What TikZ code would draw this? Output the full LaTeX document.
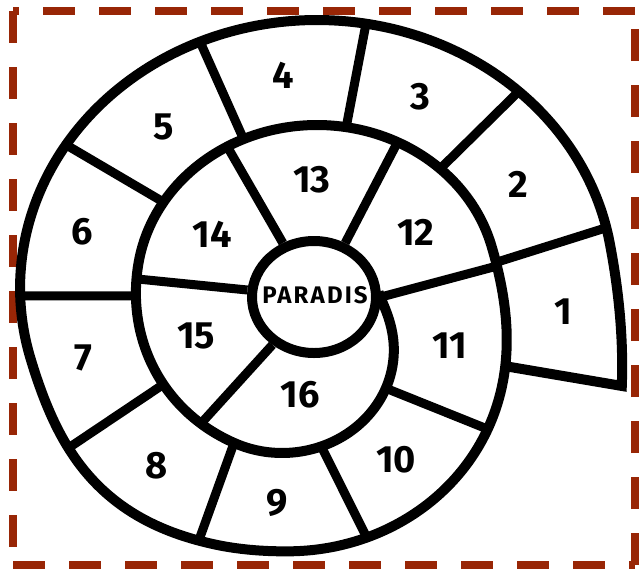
\documentclass[tikz,border=0pt]{standalone}
\usepackage{fontspec}
\setmainfont{Fira Sans}[Numbers=Proportional]
\usetikzlibrary{shapes.geometric}
\definecolor{framered}{RGB}{152,38,6}

\begin{document}
\begin{tikzpicture}[x=1pt,y=-1pt,
  declare function={
    rbase(\t)=(\t<10)?(268+0.0274*(10-\t)*(10-\t)):((\t<250)?268:((\t<375)?(163+52.5*(1+cos(1.44*(\t-250)))):((\t<530)?163:((\t<605)?(163+4.5*(1-cos(2.4*(\t-530)))):(54+59*(1+cos(1.5*(\t-605))))))));
    rbump(\t)=(abs(\t-230)<35)?(6*(1+cos(5.14*(\t-230)))):0;
    sx(\t)=317+1.108*(rbase(\t)+rbump(\t))*cos(\t);
    sy(\t)=288-(rbase(\t)+rbump(\t))*sin(\t);},
  wall/.style={line width=10pt,line join=round},
  spoke/.style={line width=9pt},
  frame/.style={draw=framered,line width=8pt,dash pattern=on 32pt off 24pt},
  num/.style={font=\fontsize{38}{38}\selectfont\bfseries,inner sep=0pt}]
\useasboundingbox (0,0) rectangle (642,568);
% dashed frame, each side starts with a dash at its corner
\draw[frame] (634.5,11) -- (13,11);
\draw[frame] (13,11) -- (13,565);
\draw[frame] (13,565) -- (634.5,565);
\draw[frame] (634.5,565) -- (634.5,11);
% points on the spiral wall (angle in degrees, second turn = +360)
\foreach \n/\a in {o12/13, o23/47.2, o34/80.5, o45/113.2, o56/147.7, o67/181.7,
    o78/215.5, o89/247.1, o910/280.2, o1011/317.5, foot/335.3,
    m12/369, m23/407, m34/440.7, m45/474, m56/508.2, m67/542.8, m78/574.8,
    m89/604.2, m910/631.4, m1011/661.8,
    i1112/367.7, i1213/423.5, i1314/479.8, i1415/536.8, i1516/592.3}
  \coordinate (\n) at ({sx(\a)},{sy(\a)});
\node[draw,ellipse,line width=10pt,minimum width=124pt,minimum height=112pt,
  inner sep=0pt] (paradis) at (314,297) {};
\node[font=\fontsize{24}{24}\selectfont\bfseries] (paradistext) at (315,295)
  {\addfontfeature{LetterSpace=9}PARADIS};
% walls between the cells
\foreach \a/\b in {m12/o12, m23/o23, m34/o34, m45/o45, m56/o56, m67/o67,
    m78/o78, m89/o89, m910/o910, m1011/o1011,
    paradis.east/i1112, paradis.60/i1213, paradis.120/i1314,
    paradis.174/i1415, paradis.229/i1516}
  \draw[spoke] (\a) -- (\b);
% spiral wall, from the foot of cell 1 inwards to paradise
\draw[wall,line join=miter] (foot) --
  plot[domain=-19.6:716,samples=600,variable=\t] ({sx(\t)},{sy(\t)});
\node[num] (c1) at (563,312) {1};
\node[num] (c2) at (518,184) {2};
\node[num] (c3) at (420,97) {3};
\node[num] (c4) at (283,75) {4};
\node[num] (c5) at (164,127) {5};
\node[num] (c6) at (82,232) {6};
\node[num] (c7) at (83,358) {7};
\node[num] (c8) at (157,466) {8};
\node[num] (c9) at (277,503) {9};
\node[num] (c10) at (396,460) {10};
\node[num] (c11) at (450,346) {11};
\node[num] (c12) at (416,232) {12};
\node[num] (c13) at (312,180) {13};
\node[num] (c14) at (212,234) {14};
\node[num] (c15) at (196,336) {15};
\node[num] (c16) at (300,395) {16};
\end{tikzpicture}
\end{document}
